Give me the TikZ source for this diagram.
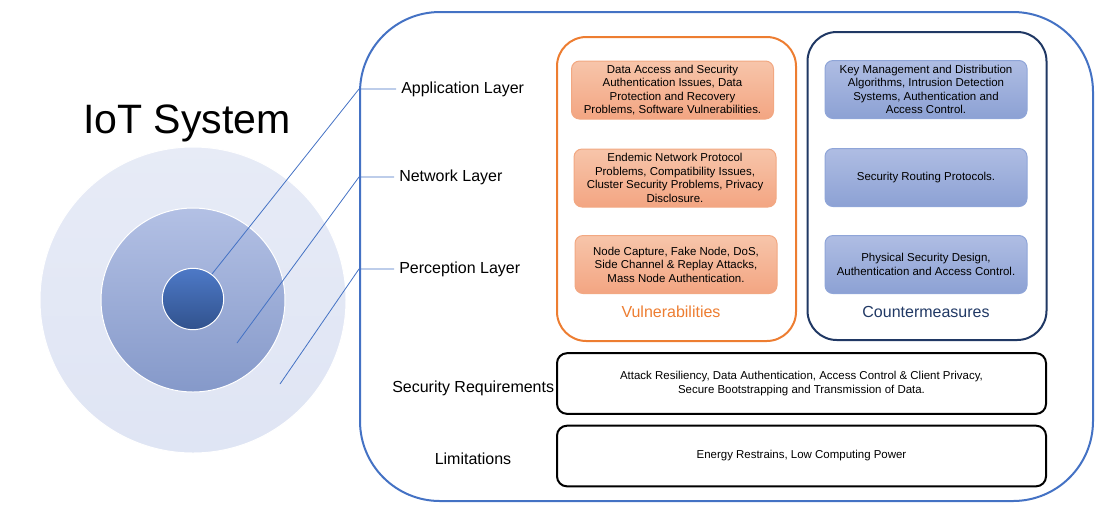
\documentclass[tikz,border=0pt]{standalone}
\usepackage{fontspec}
\setmainfont{Liberation Sans}
\definecolor{oblue}{HTML}{4472C4}
\definecolor{orng}{HTML}{ED7D31}
\definecolor{navy}{HTML}{203864}
\definecolor{salT}{HTML}{F7C5AA}
\definecolor{salB}{HTML}{F3A582}
\definecolor{salD}{HTML}{F2A882}
\definecolor{lbT}{HTML}{AFBDE3}
\definecolor{lbB}{HTML}{8CA1D4}
\definecolor{lbD}{HTML}{8FA5D8}
\begin{document}
\begin{tikzpicture}[x=0.75pt,y=-0.75pt,
  vbox/.style={draw=salD, line width=0.75pt, rounded corners=6pt, top color=salT, bottom color=salB,
    minimum width=151.5pt, minimum height=43.5pt, inner sep=0pt, align=center,
    font=\fontsize{8.6}{10.1}\selectfont},
  cbox/.style={draw=lbD, line width=0.75pt, rounded corners=6pt, top color=lbT, bottom color=lbB,
    minimum width=151.5pt, minimum height=43.5pt, inner sep=0pt, align=center,
    font=\fontsize{8.6}{10.1}\selectfont},
  wbox/.style={draw=black, line width=1.5pt, rounded corners=7.5pt, fill=white,
    minimum width=366.75pt, minimum height=45.5pt, inner sep=0pt, align=center,
    font=\fontsize{8.6}{10.1}\selectfont},
  lbl/.style={anchor=west, inner xsep=3.75pt, inner ysep=0pt, font=\fontsize{12}{14}\selectfont},
  leader/.style={draw=oblue, line width=0.6pt}
]
\useasboundingbox (0,0) rectangle (1116,512);
% circles
\node[circle, draw=white, line width=0.75pt, top color=white!45!lbT!55!white, bottom color=lbT!40!white,
  minimum size=229.5pt, inner sep=0pt] (outer) at (193,300) {};
\node[circle, draw=white, line width=0.75pt, top color=lbT!95!white, bottom color=lbB!95!black,
  minimum size=138pt, inner sep=0pt] (middle) at (193,300) {};
\node[circle, draw=white, line width=0.75pt, top color=oblue!95!white, bottom color=oblue!72!black,
  minimum size=46pt, inner sep=0pt] (inner) at (193,299) {};
\node[font=\fontsize{30.8}{36}\selectfont] (title) at (187,123) {IoT System};
% outer frame
\node[draw=oblue, line width=1.5pt, rounded corners=60pt, minimum width=549.75pt, minimum height=366.75pt,
  inner sep=0pt] (frame) at (726.5,256.5) {};
% layer labels
\node[lbl] (appl) at (396,89) {Application Layer};
\node[lbl] (netl) at (394,177) {Network Layer};
\node[lbl] (perl) at (394,269) {Perception Layer};
\node[lbl] (secl) at (387,388) {Security Requirements};
\node[font=\fontsize{12}{14}\selectfont] (liml) at (473,459) {Limitations};
% leader lines
\coordinate (a1) at (212,274);
\coordinate (n1) at (237,343);
\coordinate (p1) at (280,384);
\draw[leader] (a1) -- (appl.west -| frame.west) -- (appl.west);
\draw[leader] (n1) -- (netl.west -| frame.west) -- (netl.west);
\draw[leader] (p1) -- (perl.west -| frame.west) -- (perl.west);
% vulnerabilities
\node[draw=orng, line width=1.5pt, rounded corners=22pt, minimum width=179.25pt, minimum height=228pt,
  inner sep=0pt] (vul) at (676.5,189) {};
\node[vbox] (v1) at (672.5,90) {Data Access and Security\\Authentication Issues, Data\\Protection and Recovery\\Problems, Software Vulnerabilities.};
\node[vbox] (v2) at (675,178) {Endemic Network Protocol\\Problems, Compatibility Issues,\\Cluster Security Problems, Privacy\\Disclosure.};
\node[vbox] (v3) at (676,264.5) {Node Capture, Fake Node, DoS,\\Side Channel \& Replay Attacks,\\Mass Node Authentication.};
\node[text=orng, font=\fontsize{12}{14}\selectfont] (vlab) at (671,312) {Vulnerabilities};
% countermeasures
\node[draw=navy, line width=1.5pt, rounded corners=22pt, minimum width=179.25pt, minimum height=231pt,
  inner sep=0pt] (cm) at (927,186) {};
\node[cbox] (c1) at (926,89.5) {Key Management and Distribution\\Algorithms, Intrusion Detection\\Systems, Authentication and\\Access Control.};
\node[cbox] (c2) at (926,177.5) {Security Routing Protocols.};
\node[cbox] (c3) at (926,264.5) {Physical Security Design,\\Authentication and Access Control.};
\node[text=navy, font=\fontsize{12}{14}\selectfont] (clab) at (926,312) {Countermeasures};
% bottom boxes
\node[wbox] (sec) at (801.5,383.5) {Attack Resiliency, Data Authentication, Access Control \& Client Privacy,\\Secure Bootstrapping and Transmission of Data.};
\node[wbox] (lim) at (801.5,456) {Energy Restrains, Low Computing Power};
\end{tikzpicture}
\end{document}
